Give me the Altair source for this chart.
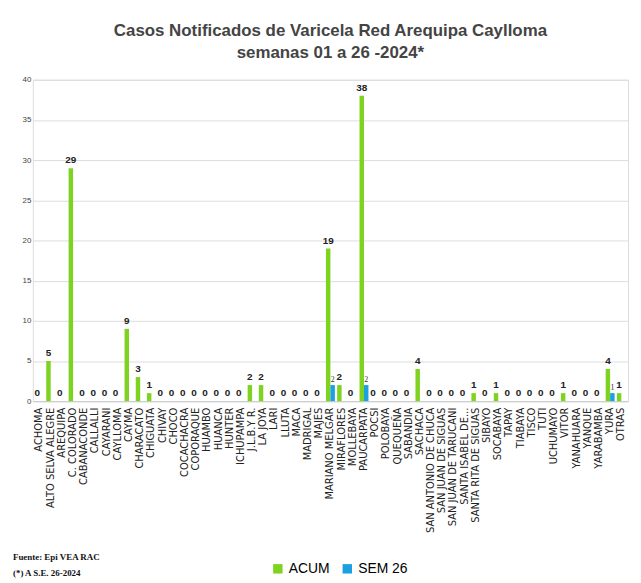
import altair as alt
import pandas as pd

districts = ["ACHOMA","ALTO SELVA ALEGRE","AREQUIPA","C. COLORADO","CABANACONDE","CALLALLI","CAYARANI","CAYLLOMA","CAYMA","CHARACATO","CHIGUATA","CHIVAY","CHOCO","COCACHACRA","COPORAQUE","HUAMBO","HUANCA","HUNTER","ICHUPAMPA","J.L.B.Y R.","LA JOYA","LARI","LLUTA","MACA","MADRIGAL","MAJES","MARIANO MELGAR","MIRAFLORES","MOLLEBAYA","PAUCARPATA","POCSI","POLOBAYA","QUEQUEÑA","SABANDIA","SACHACA","SAN ANTONIO DE CHUCA","SAN JUAN DE SIGUAS","SAN JUAN DE TARUCANI","SANTA ISABEL DE...","SANTA RITA DE SIGUAS","SIBAYO","SOCABAYA","TAPAY","TIABAYA","TISCO","TUTI","UCHUMAYO","VITOR","YANAHUARA","YANQUE","YARABAMBA","YURA","OTRAS"]
acum = [0,5,0,29,0,0,0,0,9,3,1,0,0,0,0,0,0,0,0,2,2,0,0,0,0,0,19,2,0,38,0,0,0,0,4,0,0,0,0,1,0,1,0,0,0,0,0,1,0,0,0,4,1]
sem26 = [0]*53
sem26[districts.index("MARIANO MELGAR")] = 2
sem26[districts.index("PAUCARPATA")] = 2
sem26[districts.index("YURA")] = 1

rows = []
for d, a, s in zip(districts, acum, sem26):
    rows.append({"d": d, "serie": "ACUM", "v": a, "lab": str(a)})
    rows.append({"d": d, "serie": "SEM 26", "v": s, "lab": str(s) if s else ""})
df = pd.DataFrame(rows)

colors = alt.Scale(domain=["ACUM","SEM 26"], range=["#7ED321","#1BA1E2"])
xenc = alt.X("d:N", sort=districts, title=None,
             axis=alt.Axis(labelAngle=-90, labelFont="DejaVu Sans", labelFontSize=10,
                           labelColor="#222", labelPadding=6, ticks=False, domainColor="#ccc",
                           labelLimit=200))
base = alt.Chart(df).encode(x=xenc, xOffset=alt.XOffset("serie:N", sort=["ACUM","SEM 26"]))

bars = base.mark_bar(size=4.5).encode(
    y=alt.Y("v:Q", scale=alt.Scale(domain=[0,40]), title=None,
            axis=alt.Axis(values=[0,5,10,15,20,25,30,35,40], labelFontSize=8, labelColor="#444",
                          domain=False, ticks=False, gridColor="#ddd")),
    color=alt.Color("serie:N", scale=colors,
                    legend=alt.Legend(orient="none", legendX=240, legendY=486, direction="horizontal",
                                      title=None, symbolType="square", symbolSize=90,
                                      labelFontSize=14, labelFont="Liberation Sans Narrow, Liberation Sans",
                                      columnPadding=10)))
labA = base.transform_filter("datum.serie=='ACUM'").mark_text(dy=-8, fontSize=10, fontWeight="bold",
        font="Liberation Sans Narrow, Liberation Sans", color="#222").encode(
    y="v:Q", text="lab:N")
labS = base.transform_filter("datum.serie=='SEM 26'").mark_text(dy=-5, fontSize=8,
        font="Liberation Sans Narrow", color="#333").encode(y="v:Q", text="lab:N")
foot1 = alt.Chart(pd.DataFrame({"t":["Fuente: Epi VEA RAC"]})).mark_text(
    align="left", fontSize=9, fontWeight="bold", font="Liberation Sans Narrow", color="#111").encode(
    x=alt.value(-20), y=alt.value(481), text="t:N")
foot2 = alt.Chart(pd.DataFrame({"t":["(*) A S.E. 26-2024"]})).mark_text(
    align="left", fontSize=9, fontWeight="bold", font="Liberation Sans Narrow", color="#111").encode(
    x=alt.value(-20), y=alt.value(497), text="t:N")

chart = alt.layer(bars, labA, labS, foot1, foot2).properties(
    width=600, height=324,
    title=alt.TitleParams(["Casos Notificados de Varicela Red Arequipa Caylloma", "semanas 01 a 26 -2024*"],
                          font="Liberation Sans Narrow, Liberation Sans", fontSize=17, fontWeight="bold",
                          color="#444", anchor="middle", offset=14, lineHeight=22),
).configure_view(stroke=None).configure(background="white", padding={"left": 5, "top": 12, "right": 5, "bottom": 5})

chart.save("out.html", embed_options={"renderer": "svg", "actions": False})
